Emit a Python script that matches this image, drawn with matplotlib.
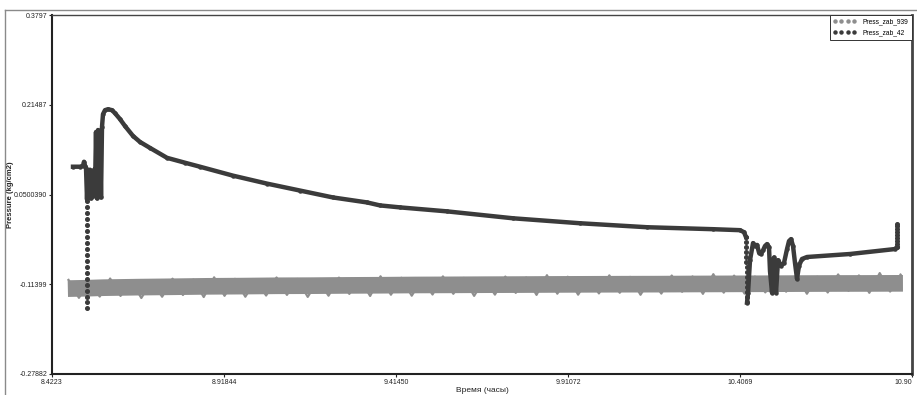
import numpy as np
import matplotlib
matplotlib.use("Agg")
import matplotlib.pyplot as plt
from matplotlib.lines import Line2D

plt.rcParams['font.family'] = ['Liberation Sans', 'DejaVu Sans']

# Press_zab_939 : dense noisy band (centre line + edge read-out)
t939c = [8.468, 8.52, 8.57, 8.67, 8.77, 8.87, 8.97, 9.07, 9.17, 9.27, 9.37, 9.47, 9.57,
         9.67, 9.77, 9.87, 9.97, 10.07, 10.17, 10.27, 10.37, 10.47, 10.57, 10.67, 10.77, 10.877]
p939c = [-0.1222, -0.1215, -0.1205, -0.1195, -0.1188, -0.1180, -0.1176, -0.1170, -0.1168,
         -0.1163, -0.1160, -0.1155, -0.1153, -0.1150, -0.1148, -0.1145, -0.1143, -0.1141,
         -0.1140, -0.1137, -0.1135, -0.1133, -0.1130, -0.1128, -0.1127, -0.1125]

t939 = [8.47, 8.50, 8.53, 8.56, 8.59, 8.62, 8.65, 8.68, 8.71, 8.74,
        8.77, 8.80, 8.83, 8.86, 8.89, 8.92, 8.95, 8.98, 9.01, 9.04,
        9.07, 9.10, 9.13, 9.16, 9.19, 9.22, 9.25, 9.28, 9.31, 9.34,
        9.37, 9.40, 9.43, 9.46, 9.49, 9.52, 9.55, 9.58, 9.61, 9.64,
        9.67, 9.70, 9.73, 9.76, 9.79, 9.82, 9.85, 9.88, 9.91, 9.94,
        9.97, 10.00, 10.03, 10.06, 10.09, 10.12, 10.15, 10.18, 10.21, 10.24,
        10.27, 10.30, 10.33, 10.36, 10.39, 10.42, 10.45, 10.48, 10.51, 10.54,
        10.57, 10.60, 10.63, 10.66, 10.69, 10.72, 10.75, 10.78, 10.81, 10.84,
        10.87]
p939 = [-0.1062, -0.1391, -0.1080, -0.1368, -0.1037, -0.1356, -0.1065, -0.1394, -0.1082, -0.1371,
        -0.1040, -0.1339, -0.1057, -0.1376, -0.1015, -0.1354, -0.1043, -0.1371, -0.1060, -0.1349,
        -0.1018, -0.1337, -0.1045, -0.1374, -0.1063, -0.1352, -0.1020, -0.1319, -0.1038, -0.1357,
        -0.0996, -0.1334, -0.1023, -0.1352, -0.1041, -0.1330, -0.0998, -0.1317, -0.1026, -0.1355,
        -0.1044, -0.1332, -0.1001, -0.1300, -0.1019, -0.1337, -0.0976, -0.1315, -0.1004, -0.1333,
        -0.1021, -0.1310, -0.0979, -0.1298, -0.1007, -0.1335, -0.1024, -0.1313, -0.0982, -0.1280,
        -0.0999, -0.1318, -0.0957, -0.1296, -0.0984, -0.1313, -0.1002, -0.1291, -0.0960, -0.1278,
        -0.0987, -0.1316, -0.1005, -0.1293, -0.0962, -0.1261, -0.0980, -0.1299, -0.0937, -0.1276,
        -0.0965]

# Press_zab_42 : main curve up to the second drop
t42 = [8.4829, 8.5031, 8.5117, 8.5146, 8.5175, 8.5204,
       8.5233, 8.5261, 8.5290, 8.5319, 8.5348, 8.5377, 8.5406, 8.5435, 8.5463,
       8.5492, 8.5521, 8.5550, 8.5579, 8.5608, 8.5637, 8.5665, 8.5694, 8.5752,
       8.5838, 8.5954, 8.6040, 8.6185, 8.6329, 8.6560, 8.6762, 8.7050, 8.7541,
       8.8060, 8.8492, 8.9444, 9.0425, 9.1375, 9.2329, 9.3310, 9.3685, 9.4262,
       9.5618, 9.7522, 9.9454, 10.1387, 10.3291, 10.4070, 10.4185, 10.4243]
p42 = [0.1014, 0.1014, 0.1032, 0.1105, 0.1032, 0.0996,
       0.0414, 0.0923, 0.0450, 0.0959, 0.0432, 0.0886, 0.0468, 0.0959, 0.0559,
       0.1651, 0.0432, 0.1687, 0.0468, 0.1614, 0.0450, 0.1741, 0.1978, 0.2051,
       0.2069, 0.2051, 0.1996, 0.1887, 0.1760, 0.1578, 0.1468, 0.1359, 0.1177,
       0.1087, 0.1014, 0.0850, 0.0704, 0.0577, 0.0450, 0.0359, 0.0304, 0.0268,
       0.0195, 0.0068, -0.0023, -0.0096, -0.0132, -0.0150, -0.0187, -0.0278]

# after the second drop
t42b = [10.4272, 10.4301, 10.4358, 10.4445, 10.4502, 10.4560, 10.4618, 10.4676, 10.4733,
        10.4791, 10.4849, 10.4906, 10.4935, 10.4993, 10.5051, 10.5108, 10.5166, 10.5252,
        10.5339, 10.5426, 10.5483, 10.5541, 10.5599, 10.5656, 10.5714, 10.5772, 10.5858,
        10.6003, 10.7243, 10.8541, 10.8599]
p42b = [-0.1478, -0.1300, -0.0700, -0.0387, -0.0441, -0.0420, -0.0560, -0.0587, -0.0520,
        -0.0440, -0.0405, -0.0460, -0.0900, -0.1297, -0.0650, -0.1297, -0.0700, -0.0800,
        -0.0750, -0.0496, -0.0350, -0.0314, -0.0441, -0.0751, -0.1042, -0.0800, -0.0678,
        -0.0642, -0.0587, -0.0496, -0.0459]

# sparse points during fast transitions
td1 = [8.5236, 8.5235, 8.5235, 8.5234, 8.5234, 8.5233, 8.5233, 8.5232, 8.5232, 8.5232,
       8.5231, 8.5231, 8.5231, 8.5230, 8.5230, 8.5230, 8.5229, 8.5229, 8.5229]
pd1 = [0.0377, 0.0268, 0.0159, 0.0050, -0.0059, -0.0168, -0.0277, -0.0386, -0.0495, -0.0604,
       -0.0713, -0.0822, -0.0931, -0.1040, -0.1149, -0.1258, -0.1367, -0.1476, -0.1569]
td2 = [10.4246, 10.4248, 10.4250, 10.4252, 10.4254, 10.4256, 10.4258, 10.4260, 10.4262,
       10.4264, 10.4266, 10.4268, 10.4270, 10.4272]
pd2 = [-0.0278, -0.0369, -0.0460, -0.0551, -0.0642, -0.0733, -0.0824, -0.0915, -0.1006,
       -0.1097, -0.1188, -0.1279, -0.1370, -0.1461]
td3 = [10.8599, 10.8600, 10.8600, 10.8601, 10.8601, 10.8602, 10.8602, 10.8603, 10.8603]
pd3 = [-0.0459, -0.0405, -0.0350, -0.0296, -0.0241, -0.0187, -0.0132, -0.0078, -0.0041]

xticks = [8.4223, 8.91844, 9.41450, 9.91072, 10.4069, 10.9031]
xlabels = ['8.4223', '8.91844', '9.41450', '9.91072', '10.4069', '10.90']
yticks = [-0.27882, -0.11399, 0.050039, 0.21487, 0.3797]
ylabels = ['-0.27882', '-0.11399', '0.0500390', '0.21487', '0.3797']

c939 = '#8e8e8e'
c42 = '#3b3b3b'

fig = plt.figure(figsize=(9.17, 3.95), dpi=100)
ax = fig.add_axes([52/917, 21/395, 860/917, 359/395])

# outer frame of the window
fig.add_artist(Line2D([5/917, 5/917], [0, 1 - 10/395], transform=fig.transFigure, color='#8a8a8a', lw=1))
fig.add_artist(Line2D([5/917, 1], [1 - 10/395, 1 - 10/395], transform=fig.transFigure, color='#8a8a8a', lw=1))

ax.plot(t939c, p939c, color=c939, lw=12, solid_capstyle='butt', zorder=2)
ax.plot(t939, p939, color=c939, lw=1.6, zorder=2)

ax.plot(t42, p42, color=c42, lw=3.2, marker='o', ms=2.2, solid_joinstyle='round', zorder=3)
ax.plot(t42b, p42b, color=c42, lw=3.2, marker='o', ms=2.2, solid_joinstyle='round', zorder=3)
for tt, pp in [(td1, pd1), (td2, pd2), (td3, pd3)]:
    ax.plot(tt, pp, ls='none', color=c42, marker='o', ms=2.6, zorder=3)

ax.set_xlim(8.4223, 10.9031)
ax.set_ylim(-0.27882, 0.3797)
ax.set_xticks(xticks)
ax.set_xticklabels(xlabels)
ax.get_xticklabels()[-1].set_horizontalalignment('right')
ax.set_yticks(yticks)
ax.set_yticklabels(ylabels)
ax.tick_params(labelsize=5, length=2, width=0.8, pad=1.5, colors='#222')

ax.set_xlabel('Время (часы)', fontsize=6, color='#222')
ax.xaxis.set_label_coords(0.5, -0.037)
ax.set_ylabel('Pressure (kg/cm2)', fontsize=5.5, fontweight='bold', color='#222')
ax.yaxis.set_label_coords(-0.044, 0.5)

for s in ['left', 'bottom']:
    ax.spines[s].set_linewidth(1.5)
    ax.spines[s].set_color('#222')
ax.spines['right'].set_linewidth(2)
ax.spines['right'].set_color('#444')
ax.spines['top'].set_linewidth(1)
ax.spines['top'].set_color('#444')

handles = [Line2D([], [], ls='none', marker='o', ms=2.2, color=c939),
           Line2D([], [], ls='none', marker='o', ms=2.2, color=c42)]
leg = ax.legend(handles, ['Press_zab_939', 'Press_zab_42'], loc='upper right',
                bbox_to_anchor=(1, 1), borderaxespad=0, fancybox=False, edgecolor='#333',
                framealpha=1, fontsize=4.8, numpoints=4, handlelength=3.4,
                handletextpad=1.0, borderpad=0.55, labelspacing=0.6)
leg.get_frame().set_linewidth(0.7)

fig.savefig('out.png', dpi=100)
